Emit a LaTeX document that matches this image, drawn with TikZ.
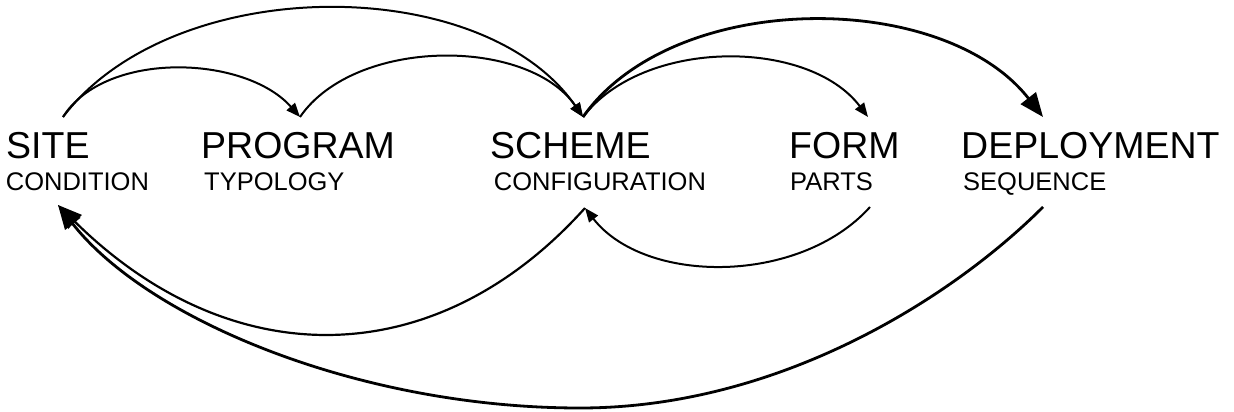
\documentclass[tikz,border=0pt]{standalone}
\usepackage{fontspec}
\setmainfont{Liberation Sans}
\usetikzlibrary{arrows.meta}
\tikzset{
  mainlbl/.style={anchor=base west,inner sep=0pt,font=\fontsize{37.5}{40}\selectfont},
  sublbl/.style={anchor=base west,inner sep=0pt,font=\fontsize{25.5}{28}\selectfont},
  thinarc/.style={line width=2pt,-{Triangle[length=14pt,width=11pt]}},
  thickarc/.style={line width=2.8pt,-{Triangle[length=24pt,width=19pt]}},
  midarc/.style={line width=2.2pt,-{Triangle[length=24pt,width=19pt]}}
}
\begin{document}
\begin{tikzpicture}[x=1pt,y=-1pt]
\useasboundingbox (0,0) rectangle (1234,412);
% labels
\node[mainlbl] (site) at (6,158) {SITE};
\node[sublbl] (siteSub) at (5.7,190) {CONDITION};
\node[mainlbl] (prog) at (201,158) {PROGRAM};
\node[sublbl] (progSub) at (204,190) {TYPOLOGY};
\node[mainlbl] (scheme) at (490,158) {SCHEME};
\node[sublbl] (schemeSub) at (493.7,190) {CONFIGURATION};
\node[mainlbl] (form) at (789,158) {FORM};
\node[sublbl] (formSub) at (790,190) {PARTS};
\node[mainlbl] (depl) at (961,158) {DEPLOYMENT};
\node[sublbl] (deplSub) at (963,190) {SEQUENCE};
% connector end points
\coordinate (siteT) at (63,117);
\coordinate (progT) at (300,117);
\coordinate (schemeT) at (583,117);
\coordinate (formT) at (868,117);
\coordinate (deplT) at (1043,117);
\coordinate (siteB) at (58,205);
\coordinate (schemeB) at (585,208);
\coordinate (formB) at (870,207);
\coordinate (deplB) at (1043,207);
\coordinate (lowB) at (580,408);
% top arcs
\draw[thinarc] (siteT) .. controls (105,50) and (245,55) .. (progT);
\draw[thinarc] (siteT) .. controls (173,-28) and (483,-28) .. (schemeT);
\draw[thinarc] (progT) .. controls (355,37) and (528,37) .. (schemeT);
\draw[thinarc] (schemeT) .. controls (643,38) and (808,38) .. (formT);
\draw[thickarc] (schemeT) .. controls (673,-11) and (943,-11) .. (deplT);
% bottom arcs
\draw[thinarc] (formB) .. controls (800,285) and (645,285) .. (schemeB);
\draw[midarc] (schemeB) .. controls (435,375) and (230,375) .. (siteB);
\draw[thickarc] (deplB) .. controls (953,297) and (780,408) .. (lowB)
   .. controls (360,408) and (148,320) .. (siteB);
\end{tikzpicture}
\end{document}
